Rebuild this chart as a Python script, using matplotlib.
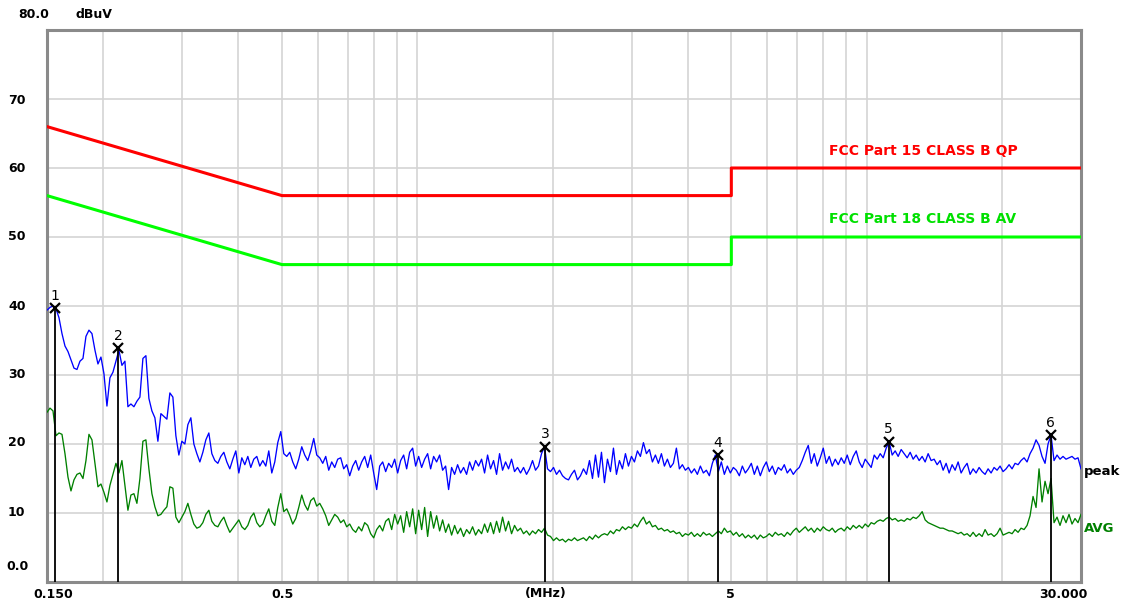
import numpy as np
import matplotlib
matplotlib.use('Agg')
import matplotlib.pyplot as plt

W, H = 1128, 608

# limit lines, MHz / dBuV
qp_freq = [0.15, 0.5, 5.0, 5.0, 30.0]
qp_level = [66.0, 56.0, 56.0, 60.0, 60.0]
av_freq = [0.15, 0.5, 5.0, 5.0, 30.0]
av_level = [56.0, 46.0, 46.0, 50.0, 50.0]

# marked peaks
marker_freq = [0.156, 0.216, 1.925, 4.67, 11.2, 25.7]
marker_level = [39.7, 33.9, 19.6, 18.4, 20.3, 21.3]

# sweep readings, 0.15 .. 30 MHz on a log grid
peak_dbuv = [
    39.4, 39.8, 40.0, 39.6, 38.3, 36.0, 34.2, 33.4, 32.2, 31.0,
    30.8, 32.0, 32.4, 35.6, 36.5, 36.0, 33.6, 31.6, 32.6, 30.2,
    25.5, 29.6, 30.4, 32.0, 33.6, 31.4, 32.0, 25.4, 25.8, 25.4,
    26.2, 26.8, 32.4, 32.8, 26.6, 24.8, 23.8, 20.4, 24.4, 24.0,
    23.6, 27.4, 26.8, 21.2, 18.4, 20.4, 20.0, 22.8, 23.8, 20.0,
    18.6, 17.4, 18.8, 20.6, 21.6, 18.6, 17.6, 17.2, 18.2, 18.8,
    17.4, 16.4, 17.8, 19.0, 15.8, 18.0, 17.0, 18.2, 16.6, 17.8,
    18.2, 16.8, 17.6, 16.8, 19.0, 15.8, 17.4, 20.2, 21.8, 18.6,
    18.2, 18.8, 17.4, 16.4, 17.8, 19.6, 18.4, 17.6, 19.0, 20.8,
    18.4, 18.0, 17.2, 18.2, 16.2, 17.4, 16.6, 17.8, 18.0, 16.4,
    17.0, 15.4, 16.8, 17.6, 16.2, 17.4, 18.2, 16.6, 18.4, 15.8,
    13.4, 16.8, 17.4, 16.0, 17.2, 16.6, 17.8, 15.8, 17.6, 18.4,
    16.4, 18.8, 19.4, 16.8, 18.2, 16.6, 17.8, 18.6, 16.4, 18.2,
    17.4, 18.4, 16.2, 16.8, 13.4, 16.6, 15.6, 17.0, 15.8, 16.6,
    15.6, 17.4, 16.2, 17.6, 16.8, 17.8, 15.8, 18.4, 16.4, 17.6,
    15.6, 18.6, 16.2, 17.4, 16.4, 17.8, 16.0, 16.6, 15.8, 16.6,
    15.6, 16.4, 17.6, 16.2, 16.8, 18.6, 19.6, 16.4, 16.0, 16.6,
    15.6, 16.2, 15.4, 15.0, 14.8, 15.6, 16.2, 14.8, 15.4, 16.4,
    15.6, 17.6, 15.0, 18.4, 15.2, 18.8, 14.4, 17.8, 16.0, 19.4,
    15.6, 17.6, 16.4, 18.6, 16.8, 18.2, 17.4, 19.0, 18.2, 20.2,
    18.6, 19.2, 17.4, 18.4, 17.2, 18.6, 16.8, 17.8, 16.6, 17.2,
    19.4, 16.4, 17.0, 16.2, 16.6, 15.8, 16.4, 15.6, 16.8, 15.8,
    16.2, 15.4, 17.2, 18.4, 16.0, 17.4, 15.6, 16.8, 15.8, 16.6,
    16.2, 15.4, 16.8, 15.8, 16.4, 17.2, 15.6, 16.8, 15.4, 16.6,
    17.4, 16.0, 16.8, 15.6, 16.6, 16.2, 17.0, 15.8, 16.4, 15.6,
    16.2, 16.6, 17.6, 18.8, 19.8, 17.2, 18.6, 16.8, 18.0, 19.4,
    17.2, 18.2, 16.8, 17.8, 17.0, 18.0, 17.2, 18.4, 17.0, 18.2,
    19.0, 17.4, 16.6, 17.8, 17.2, 16.6, 18.4, 17.8, 18.6, 18.0,
    19.4, 20.3, 18.4, 19.0, 18.2, 19.2, 18.6, 18.0, 18.8, 17.8,
    18.4, 17.6, 18.2, 17.4, 18.6, 17.6, 17.8, 17.0, 17.6, 16.2,
    17.2, 15.8, 17.0, 16.2, 17.4, 15.8, 16.6, 17.2, 15.6, 16.4,
    15.8, 16.6, 16.0, 15.6, 16.4, 15.8, 16.6, 16.2, 16.8, 16.0,
    16.4, 17.0, 16.4, 17.2, 17.0, 17.6, 18.0, 17.4, 18.6, 19.4,
    20.6, 19.8, 18.2, 17.2, 20.0, 21.3, 17.6, 18.4, 17.8, 18.2,
    17.8, 18.0, 18.2, 17.8, 18.0, 16.4,
]

avg_dbuv = [
    24.6, 25.2, 24.8, 21.2, 21.6, 21.4, 18.6, 15.2, 13.2, 14.8,
    15.6, 15.8, 15.0, 17.6, 21.4, 20.6, 17.2, 13.8, 14.2, 13.0,
    11.6, 14.0, 15.6, 17.2, 15.8, 17.6, 14.0, 10.4, 12.6, 12.8,
    11.4, 15.0, 20.4, 20.6, 16.4, 12.8, 10.9, 9.6, 9.8, 10.4,
    10.9, 13.8, 13.6, 9.4, 8.6, 9.4, 10.2, 11.4, 9.8, 8.4,
    7.8, 8.0, 8.6, 9.8, 10.4, 8.8, 8.2, 8.0, 8.8, 9.4,
    8.2, 7.2, 7.8, 8.4, 9.0, 8.0, 7.6, 8.2, 9.4, 10.0,
    8.6, 8.0, 8.4, 9.6, 10.6, 8.8, 8.2, 10.8, 12.8, 10.2,
    10.6, 9.6, 8.4, 9.2, 10.8, 12.6, 11.2, 10.4, 11.8, 12.2,
    11.0, 11.4, 10.6, 9.6, 8.2, 9.0, 9.8, 9.4, 8.6, 9.0,
    8.0, 8.4, 7.6, 7.2, 8.0, 7.4, 8.6, 8.2, 7.0, 6.4,
    7.6, 8.2, 7.4, 8.8, 9.2, 7.6, 9.8, 8.4, 9.6, 7.2,
    10.2, 8.0, 10.6, 7.0, 10.4, 7.6, 10.8, 6.6, 10.2, 7.8,
    9.6, 7.4, 9.0, 7.2, 8.4, 6.8, 8.2, 7.0, 7.8, 6.6,
    7.6, 7.0, 8.0, 6.8, 7.6, 7.0, 8.4, 7.2, 8.6, 7.0,
    8.8, 7.2, 9.4, 7.4, 8.8, 7.0, 8.2, 7.4, 7.8, 7.0,
    7.4, 6.8, 7.4, 7.0, 7.6, 7.2, 7.8, 6.8, 6.6, 6.0,
    6.4, 6.0, 6.2, 5.8, 6.2, 6.0, 6.4, 6.0, 6.2, 6.4,
    6.0, 6.6, 6.2, 6.8, 6.4, 6.8, 7.0, 6.8, 7.4, 7.0,
    7.6, 7.4, 8.0, 7.6, 8.0, 7.8, 8.4, 8.0, 8.8, 9.4,
    8.4, 8.8, 8.0, 8.2, 7.6, 7.8, 7.4, 7.6, 7.2, 7.4,
    7.0, 7.2, 6.6, 7.0, 6.8, 7.2, 6.6, 7.0, 6.6, 7.2,
    6.8, 7.0, 6.6, 7.0, 7.4, 7.0, 7.8, 7.2, 7.4, 6.8,
    7.2, 6.6, 7.0, 6.4, 6.8, 6.4, 6.8, 6.2, 6.8, 6.4,
    6.6, 7.0, 6.6, 7.2, 6.8, 7.0, 6.6, 7.2, 6.8, 7.4,
    7.8, 7.2, 7.6, 8.0, 7.4, 7.8, 7.2, 7.8, 7.4, 8.0,
    7.6, 7.4, 7.8, 7.2, 7.6, 7.8, 7.4, 8.0, 7.6, 8.2,
    7.8, 8.2, 7.8, 8.4, 8.0, 8.6, 8.4, 8.8, 9.0, 8.8,
    9.2, 9.4, 9.0, 9.2, 8.8, 9.0, 8.8, 9.2, 9.0, 9.4,
    9.2, 9.6, 10.2, 9.0, 8.6, 8.4, 8.2, 8.0, 7.8, 7.8,
    7.6, 7.4, 7.4, 7.2, 7.0, 7.2, 6.8, 7.0, 6.6, 7.2,
    6.6, 7.0, 6.6, 7.6, 6.8, 7.0, 6.6, 7.0, 7.8, 6.8,
    7.0, 7.2, 7.0, 7.6, 7.2, 7.8, 7.6, 8.2, 9.6, 12.4,
    10.8, 16.4, 11.6, 14.6, 12.8, 15.0, 8.6, 9.4, 8.2, 9.6,
    8.6, 9.8, 8.4, 9.2, 8.6, 9.8,
]

grid_freq = [0.2, 0.3, 0.4, 0.5, 0.6, 0.7, 0.8, 0.9,
             1, 2, 3, 4, 5, 6, 7, 8, 9, 10, 20]
grid_level = [10, 20, 30, 40, 50, 60, 70]

# axis texts: (label, x px, y px)
y_labels = [("80.0", 18, 15), ("70", 8, 100), ("60", 8, 168), ("50", 8, 237),
            ("40", 8, 306), ("30", 8, 375), ("20", 8, 443), ("10", 8, 512),
            ("0.0", 6, 566)]
x_labels = [("0.150", 53, 594), ("0.5", 282, 594), ("(MHz)", 546, 594),
            ("5", 730, 594), ("30.000", 1063, 594)]


def px(x, y):
    return x / W, 1 - y / H


fig = plt.figure(figsize=(W / 100, H / 100), dpi=100)
fig.patch.set_facecolor('white')
left, right, top, bottom = 47, 1081, 30, 582
ax = fig.add_axes([left / W, 1 - bottom / H, (right - left) / W, (bottom - top) / H])
ax.set_xscale('log')
ax.set_xlim(0.15, 30)
ax.set_ylim(0, 80)

for f in grid_freq:
    ax.axvline(f, color='#d4d4d4', lw=1.2, zorder=0)
for lv in grid_level:
    ax.axhline(lv, color='#d4d4d4', lw=1.2, zorder=0)

ax.set_xticks([])
ax.set_yticks([])
ax.minorticks_off()
ax.tick_params(which='both', length=0, labelbottom=False, labelleft=False)
for s in ax.spines.values():
    s.set_color('#8a8a8a')
    s.set_linewidth(2.2)

ax.plot(qp_freq, qp_level, color='#ff0000', lw=2.2, zorder=3)
ax.plot(av_freq, av_level, color='#00ff00', lw=2.2, zorder=3)

sweep_pk = np.geomspace(0.15, 30, len(peak_dbuv))
sweep_av = np.geomspace(0.15, 30, len(avg_dbuv))
ax.plot(sweep_av, avg_dbuv, color='#008000', lw=0.95, zorder=4)
ax.plot(sweep_pk, peak_dbuv, color='#0000ff', lw=0.95, zorder=5)

for i, (f, lv) in enumerate(zip(marker_freq, marker_level), start=1):
    ax.plot([f, f], [0, lv], color='black', lw=1.3, zorder=6)
    ax.plot(f, lv, marker='x', color='black', ms=7, mew=1.6, zorder=7)
    ax.annotate(str(i), (f, lv), xytext=(0, 9), textcoords='offset points',
                ha='center', va='center', fontsize=10, color='black', zorder=7)

fig.text(*px(923, 151), "FCC Part 15 CLASS B QP", color='#ff0000',
         fontsize=10, fontweight='bold', ha='center', va='center')
fig.text(*px(923, 219), "FCC Part 18 CLASS B AV", color='#00e000',
         fontsize=10, fontweight='bold', ha='center', va='center')
fig.text(*px(1084, 471), "peak", color='black', fontsize=9.5,
         fontweight='bold', ha='left', va='center')
fig.text(*px(1084, 528), "AVG", color='#008000', fontsize=9.5,
         fontweight='bold', ha='left', va='center')

for t, x, y in y_labels:
    fig.text(*px(x, y), t, fontsize=9, fontweight='bold', ha='left', va='center')
fig.text(*px(75, 15), "dBuV", fontsize=9, fontweight='bold', ha='left', va='center')
for t, x, y in x_labels:
    fig.text(*px(x, y), t, fontsize=9, fontweight='bold', ha='center', va='center')

fig.savefig('out.png', dpi=100, facecolor='white')
